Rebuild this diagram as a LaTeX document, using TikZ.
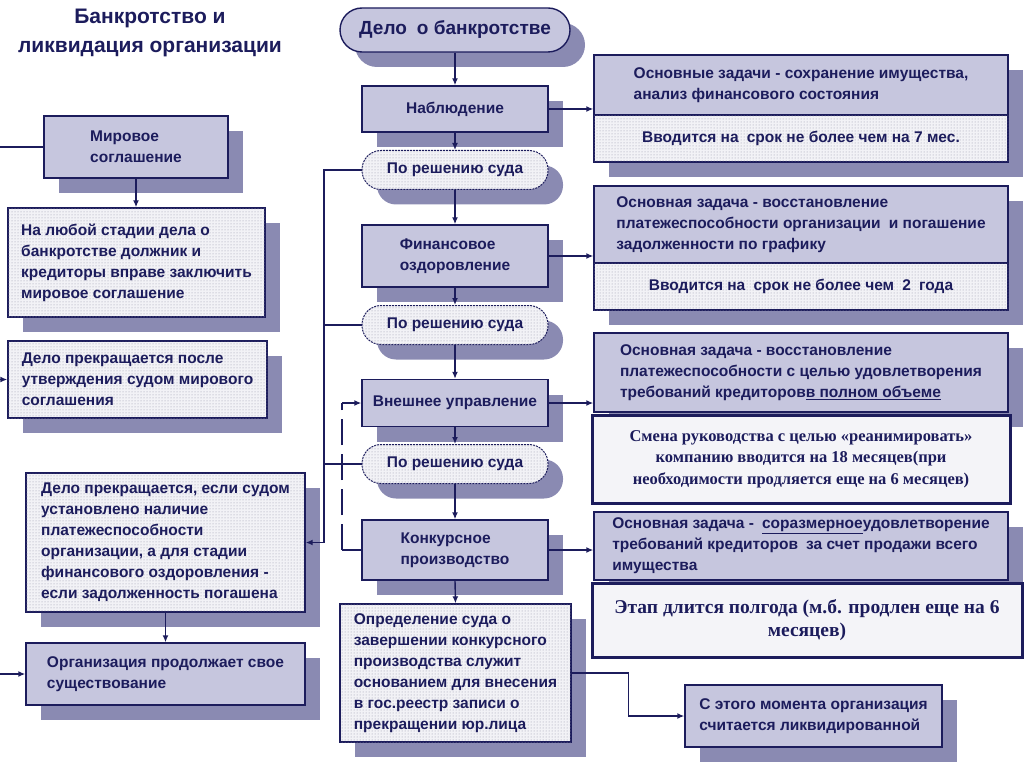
\documentclass[tikz,border=0pt]{standalone}
\usepackage{fontspec}
\setmainfont{Liberation Sans}
\newfontfamily\serifb{Liberation Serif}
\usetikzlibrary{arrows.meta,shadows,patterns}
\definecolor{bknavy}{RGB}{28,28,92}
\definecolor{bklav}{RGB}{198,198,222}
\definecolor{bkshade}{RGB}{138,138,178}
\definecolor{bkdotbg}{RGB}{242,242,246}
\definecolor{bkdots}{RGB}{150,150,170}
\definecolor{bkpale}{RGB}{244,244,248}

\begin{document}
\begin{tikzpicture}[x=1pt, y=-1pt, >={Latex[length=7pt,width=6pt]}, line width=1.4pt, color=bknavy, font=\fontsize{15.5}{21}\selectfont\bfseries]
\tikzset{
	bkshadow/.style={drop shadow={shadow xshift=15pt, shadow yshift=-15pt, fill=bkshade, opacity=1}},
	bkstage/.style={draw=bknavy, fill=bklav, bkshadow, align=left, inner sep=2pt},
	bkdot/.style={draw=bknavy, fill=bkdotbg, postaction={pattern=dots, pattern color=bkdots}, bkshadow, align=left, inner sep=2pt},
	bkcourt/.style={bkdot, rounded corners=19pt, dash pattern=on 2pt off 1pt, line width=1pt, minimum width=186pt, minimum height=39pt},
	bknote/.style={draw=bknavy, line width=3pt, fill=bkpale, align=center}
}
\useasboundingbox (0,0) rectangle (1024,767);

\node[align=center, font=\fontsize{21}{29}\selectfont\bfseries] (title) at (150,33)
{Банкротство и\\ликвидация организации};

% centre column
\node[bkstage, rounded corners=22pt, minimum width=230pt, minimum height=44pt, align=center, font=\fontsize{19}{22}\selectfont\bfseries] (delo) at (455,30)
{Дело\hspace{0.25em} о банкротстве};
\node[bkstage, minimum width=186pt, minimum height=46pt] (nabl) at (455,109) {Наблюдение};
\node[bkcourt] (prs1) at (455,170) {По решению суда};
\node[bkstage, minimum width=186pt, minimum height=62pt] (fin) at (455,256) {Финансовое\\оздоровление};
\node[bkcourt] (prs2) at (455,325) {По решению суда};
\node[bkstage, minimum width=186pt, minimum height=47pt, inner sep=1pt] (vnesh) at (455,403) {Внешнее управление};
\node[bkcourt] (prs3) at (455,464) {По решению суда};
\node[bkstage, minimum width=186pt, minimum height=60pt] (konk) at (455,550) {Конкурсное\\производство};
\node[bkdot, minimum width=231pt, minimum height=138pt] (opred) at (455.5,673)
{Определение суда о\\завершении конкурсного\\производства служит\\основанием для внесения\\в гос.реестр записи о\\прекращении юр.лица};
\node[bkstage, minimum width=257pt, minimum height=62pt] (likv) at (813.5,716)
{С этого момента организация\\считается ликвидированной};

% left column
\node[bkstage, minimum width=184pt, minimum height=62pt] (mir) at (136,147) {Мировое\\соглашение};
\node[bkdot, minimum width=257pt, minimum height=109pt] (lyub) at (136.5,262.5)
{На любой стадии дела о\\банкротстве должник и\\кредиторы вправе заключить\\мировое соглашение};
\node[bkdot, minimum width=259pt, minimum height=77pt] (prekr1) at (137.5,379.5)
{Дело прекращается после\\утверждения судом мирового\\соглашения};
\node[bkdot, minimum width=279pt, minimum height=139pt] (prekr2) at (165.5,542.5)
{Дело прекращается, если судом\\установлено наличие\\платежеспособности\\организации, а для стадии\\финансового оздоровления -\\если задолженность погашена};
\node[bkstage, minimum width=279pt, minimum height=62pt] (org) at (165.5,674)
{Организация продолжает свое\\существование};

% right column
\node[bkstage, minimum width=414pt, minimum height=60pt] (r1a) at (801,85)
{Основные задачи - сохранение имущества,\\анализ финансового состояния};
\node[bkdot, minimum width=414pt, minimum height=47pt, align=center] (r1b) at (801,138.5)
{Вводится на\hspace{0.25em} срок не более чем на 7 мес.};
\node[bkstage, minimum width=414pt, minimum height=77pt] (r2a) at (801,224.5)
{Основная задача - восстановление\\платежеспособности организации\hspace{0.25em} и погашение\\задолженности по графику};
\node[bkdot, minimum width=414pt, minimum height=47pt, align=center] (r2b) at (801,286.5)
{Вводится на\hspace{0.25em} срок не более чем\hspace{0.25em} 2\hspace{0.25em} года};
\node[bkstage, minimum width=414pt, minimum height=79pt] (r3a) at (801,372.5)
{Основная задача - восстановление\\платежеспособности с целью удовлетворения\\требований кредиторов\underline{в полном объеме}};
\node[bknote, minimum width=418pt, minimum height=88pt, font=\serifb\bfseries\fontsize{16.5}{21.5}\selectfont] (r3b) at (801,459)
{Смена руководства с целью «реанимировать»\\компанию вводится на 18 месяцев(при\\необходимости продляется еще на 6 месяцев)};
\node[bkstage, minimum width=414pt, minimum height=68pt] (r4a) at (801,546)
{Основная задача -\hspace{0.25em} \underline{соразмерное}удовлетворение\\требований кредиторов\hspace{0.25em} за счет продажи всего\\имущества};
\node[bknote, minimum width=430pt, minimum height=74pt, font=\serifb\bfseries\fontsize{19.5}{23}\selectfont] (r4b) at (807,620)
{Этап длится полгода (м.б. продлен еще на 6\\месяцев)};

\coordinate (trunk) at (324,0);
\coordinate (edge1) at (0,147);
\coordinate (edge2) at (0,379.5);
\coordinate (edge3) at (0,674);
\coordinate (loopk) at (342,550);
\coordinate (loopv) at (342,403);

\draw[->] (delo.south) -- (nabl.north);
\draw[->] (nabl.south) -- (prs1.north);
\draw[->] (prs1.south) -- (fin.north);
\draw[->] (fin.south) -- (prs2.north);
\draw[->] (prs2.south) -- (vnesh.north);
\draw[->] (vnesh.south) -- (prs3.north);
\draw[->] (prs3.south) -- (konk.north);
\draw[->] (konk.south) -- (opred.north);

\draw[->] (nabl.east) -- (nabl.east -| r1a.west);
\draw[->] (fin.east) -- (fin.east -| r2a.west);
\draw[->] (vnesh.east) -- (vnesh.east -| r3a.west);
\draw[->] (konk.east) -- (konk.east -| r4a.west);
\draw[->] (opred.east) -- ++(57,0) |- (likv.west);

\draw[->] (prs1.west) -- (prs1.west -| trunk) |- (prekr2.east);
\draw (prs2.west) -- (prs2.west -| trunk);
\draw (prs3.west) -- (prs3.west -| trunk);

\draw (konk.west) -- (loopk);
\draw[dash pattern=on 26pt off 9pt] (loopk) -- (loopv);
\draw[->] (loopv) -- (vnesh.west);

\draw (edge1) -- (mir.west);
\draw[->] (mir.south) -- (mir.south |- lyub.north);
\draw[->] (edge2) -- (prekr1.west);
\draw[->] (prekr2.south) -- (org.north);
\draw[->] (edge3) -- (org.west);

\end{tikzpicture}
\end{document}
